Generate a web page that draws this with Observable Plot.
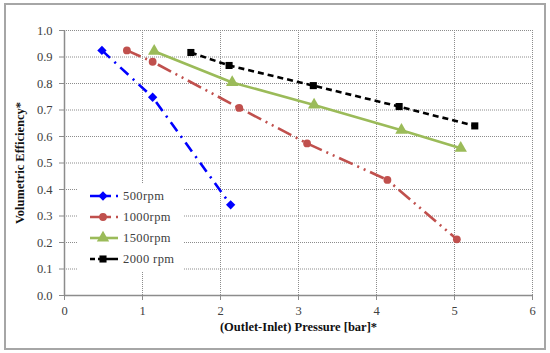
<!DOCTYPE html>
<html><head><meta charset="utf-8">
<script src="https://cdn.jsdelivr.net/npm/d3@7"></script>
<script src="https://cdn.jsdelivr.net/npm/@observablehq/plot@0.6"></script>
<style>
body{margin:0;background:#fff;}
#wrap{position:relative;width:550px;height:353px;overflow:hidden;}
#frame{position:absolute;left:4px;top:3px;width:538px;height:343px;border:2px solid #a6a6a6;pointer-events:none;}
#wrap svg text{font-family:'Liberation Serif', serif;}
</style></head>
<body><div id="wrap"><div id="frame"></div></div>
<script>
// Data
const series = ["500rpm", "1000rpm", "1500rpm", "2000 rpm"];
const pressure500 = [0.48, 1.13, 2.13];
const eff500 = [0.925, 0.748, 0.342];
const pressure1000 = [0.80, 1.13, 2.24, 3.11, 4.14, 5.03];
const eff1000 = [0.925, 0.882, 0.708, 0.574, 0.436, 0.212];
const pressure1500 = [1.15, 2.15, 3.20, 4.32, 5.08];
const eff1500 = [0.922, 0.804, 0.719, 0.624, 0.556];
const pressure2000 = [1.62, 2.11, 3.19, 4.29, 5.26];
const eff2000 = [0.917, 0.868, 0.792, 0.713, 0.640];
const xTicks = [0, 1, 2, 3, 4, 5, 6];
const yTicks = [0, 0.1, 0.2, 0.3, 0.4, 0.5, 0.6, 0.7, 0.8, 0.9, 1.0];

const colors = ["#0000ff", "#c0504d", "#9bbb59", "#000000"];
const dashes = ["11,6,2,6", "15,5,2,5,2,5", null, "6,4"];
const symbols = [d3.symbolDiamond2, d3.symbolCircle, d3.symbolTriangle, d3.symbolSquare];
const radii = [4.2, 3.9, 4.6, 4.0];

const xs = [pressure500, pressure1000, pressure1500, pressure2000];
const ys = [eff500, eff1000, eff1500, eff2000];
const data = series.map((s, i) => xs[i].map((x, j) => ({series: s, x, y: ys[i][j]})));

const lineMarks = data.map((d, i) => Plot.line(d, {x: "x", y: "y", stroke: colors[i], strokeWidth: 2.6, strokeDasharray: dashes[i], strokeLinecap: "butt"}));
const dotMarks = data.map((d, i) => Plot.dot(d, {x: "x", y: "y", fill: colors[i], stroke: "none", symbol: symbols[i], r: radii[i]}));

const chart = Plot.plot({
  width: 550, height: 353,
  marginLeft: 64, marginRight: 18, marginTop: 30, marginBottom: 58,
  style: {fontFamily: "'Liberation Serif', serif", fontSize: "12.5px", background: "transparent", color: "#404040"},
  x: {domain: [0, 6], ticks: xTicks, label: null},
  y: {domain: [0, 1], ticks: yTicks, label: null},
  marks: [
    Plot.gridX(xTicks, {stroke: "#8c8c8c", strokeOpacity: 1, strokeDasharray: "1,1"}),
    Plot.gridY(yTicks, {stroke: "#8c8c8c", strokeOpacity: 1, strokeDasharray: "1,1"}),
    Plot.ruleX([0], {stroke: "#8c8c8c", strokeWidth: 1.5}),
    Plot.ruleY([0], {stroke: "#8c8c8c", strokeWidth: 1.5}),
    Plot.axisX(xTicks, {tickSize: 5, tickPadding: 6, stroke: "#8c8c8c", fill: "#404040", tickFormat: d3.format("d"), label: null}),
    Plot.axisY(yTicks, {tickSize: 5, tickPadding: 7, stroke: "#8c8c8c", fill: "#404040", tickFormat: d3.format(".1f"), label: null}),
    ...lineMarks,
    ...dotMarks,
    Plot.text(["(Outlet-Inlet) Pressure [bar]*"], {frameAnchor: "bottom", dy: 35, fontWeight: "bold", fontSize: 12.5, fill: "#111"}),
    Plot.text(["Volumetric Efficiency*"], {frameAnchor: "left", dx: -45, rotate: -90, textAnchor: "middle", fontWeight: "bold", fontSize: 12.5, fill: "#111"})
  ]
});
document.getElementById("wrap").prepend(chart);

// Legend inside plot
const svg = d3.select(chart);
const lg = svg.append("g");
lg.append("rect").attr("x", 78).attr("y", 183).attr("width", 106).attr("height", 88).attr("fill", "#fff");
series.forEach((s, i) => {
  const y = 196 + i * 21;
  lg.append("line").attr("x1", 90).attr("x2", 118).attr("y1", y).attr("y2", y)
    .attr("stroke", colors[i]).attr("stroke-width", 2.6)
    .attr("stroke-dasharray", i === 0 ? "21,5,2,10" : i === 1 ? "21,5,2,10" : i === 3 ? "5,3,22,10" : null);
  lg.append("path").attr("d", d3.symbol(symbols[i], Math.PI * radii[i] * radii[i])())
    .attr("transform", `translate(103,${y})`).attr("fill", colors[i]);
  lg.append("text").attr("x", 123).attr("y", y).attr("dy", "0.35em").attr("text-anchor", "start")
    .attr("font-size", 12.5).attr("letter-spacing", "0.4px").attr("fill", "#404040").text(s);
});
</script>
</body></html>
